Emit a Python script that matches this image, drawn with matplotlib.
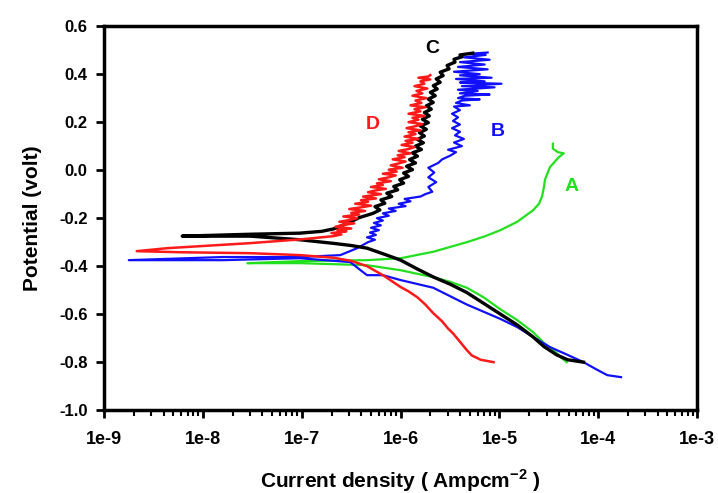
import numpy as np
import matplotlib
matplotlib.use("Agg")
import matplotlib.pyplot as plt
from matplotlib.ticker import FixedLocator, LogLocator, NullFormatter

plt.rcParams['font.family'] = ['Liberation Sans', 'DejaVu Sans']
plt.rcParams['font.weight'] = 'bold'
plt.rcParams['mathtext.fontset'] = 'custom'
plt.rcParams['mathtext.bf'] = 'Liberation Sans:bold'
plt.rcParams['mathtext.rm'] = 'Liberation Sans:bold'

# log10(current density), potential (V); cathodic tail -> Ecorr tip -> anodic end
a_log = [-4.32, -4.38, -4.42, -4.55, -4.66, -4.82, -4.99, -5.16, -5.33, -5.50,
         -5.67, -6.00, -6.34, -7.02, -7.55,
         -7.02, -6.34, -6.00, -5.67, -5.33, -5.15, -4.99, -4.82, -4.66, -4.60,
         -4.57, -4.55, -4.54, -4.49, -4.40, -4.35, -4.41, -4.46, -4.46]
a_pot = [-0.80, -0.78, -0.762, -0.72, -0.675, -0.625, -0.58, -0.53, -0.49, -0.465,
         -0.446, -0.417, -0.396, -0.3875, -0.3875,
         -0.379, -0.375, -0.367, -0.34, -0.30, -0.276, -0.25, -0.215, -0.167, -0.14,
         -0.11, -0.07, -0.04, 0.0125, 0.054, 0.07, 0.075, 0.09, 0.11]

b_log = [-3.77, -3.91, -4.02, -4.15, -4.32, -4.49, -4.66, -4.82, -4.99, -5.16,
         -5.33, -5.50, -5.67, -6.00, -6.18,
         -6.34, -6.38, -6.51, -7.02, -7.80, -8.75,
         -7.80, -7.02, -6.61, -6.44,
         -6.33, -6.26, -6.34, -6.25, -6.31, -6.22, -6.30, -6.20, -6.27, -6.18,
         -6.24, -6.12, -6.18, -6.05, -6.12, -5.95, -6.02, -5.90, -5.96, -5.80,
         -5.75, -5.68, -5.72, -5.64, -5.72, -5.66, -5.72, -5.62, -5.58, -5.50,
         -5.44, -5.52, -5.38, -5.46, -5.36, -5.45, -5.40, -5.48, -5.40, -5.47,
         -5.42, -5.48, -5.40, -5.46, -5.30, -5.44, -5.38, -5.20, -5.42, -5.35,
         -5.10, -5.40, -5.22, -5.42, -5.05, -5.38, -4.98, -5.40, -5.15, -5.44,
         -5.08, -5.40, -5.20, -5.46, -5.12, -5.42, -5.15, -5.40, -5.10, -5.36,
         -5.14, -5.30, -5.12]
b_pot = [-0.8625, -0.854, -0.83, -0.80, -0.768, -0.737, -0.695, -0.654, -0.62, -0.59,
         -0.56, -0.525, -0.49, -0.458, -0.4375,
         -0.4375, -0.425, -0.383, -0.367, -0.375, -0.375,
         -0.362, -0.362, -0.354, -0.325,
         -0.30, -0.29, -0.28, -0.27, -0.26, -0.25, -0.24, -0.23, -0.22, -0.21,
         -0.20, -0.19, -0.18, -0.17, -0.16, -0.15, -0.14, -0.13, -0.12, -0.11,
         -0.10, -0.09, -0.07, -0.05, -0.03, -0.01, 0.01, 0.03, 0.045, 0.06,
         0.075, 0.085, 0.10, 0.115, 0.13, 0.145, 0.16, 0.175, 0.19, 0.205,
         0.22, 0.235, 0.25, 0.265, 0.27, 0.28, 0.29, 0.295, 0.30, 0.31,
         0.315, 0.32, 0.33, 0.335, 0.345, 0.35, 0.36, 0.365, 0.37, 0.38,
         0.385, 0.395, 0.40, 0.41, 0.42, 0.43, 0.44, 0.45, 0.46, 0.47,
         0.48, 0.485, 0.49]

c_log = [-4.15, -4.31, -4.42, -4.55, -4.66, -4.82, -4.99, -5.16, -5.33, -5.50,
         -5.67, -5.84, -6.00, -6.14, -6.34, -6.50,
         -6.68, -7.02, -7.52, -8.21,
         -7.52, -7.02, -6.80, -6.68, -6.60, -6.51, -6.42,
         -6.28, -6.21, -6.26, -6.16, -6.20, -6.09, -6.14, -6.03, -6.07, -5.97,
         -6.01, -5.92, -5.97, -5.88, -5.94, -5.85, -5.91, -5.83, -5.88, -5.79,
         -5.85, -5.77, -5.83, -5.76, -5.81, -5.74, -5.80, -5.72, -5.78, -5.71,
         -5.76, -5.69, -5.74, -5.67, -5.72, -5.65, -5.70, -5.63, -5.67, -5.60,
         -5.64, -5.57, -5.60, -5.51, -5.53, -5.45, -5.46, -5.38, -5.40, -5.27]
c_pot = [-0.80, -0.79, -0.77, -0.735, -0.695, -0.645, -0.60, -0.555, -0.51, -0.475,
         -0.445, -0.41, -0.375, -0.354, -0.325, -0.314,
         -0.305, -0.29, -0.275, -0.275,
         -0.267, -0.2625, -0.255, -0.245, -0.232, -0.216, -0.198,
         -0.180, -0.166, -0.152, -0.138, -0.124, -0.110, -0.096, -0.082, -0.068, -0.054,
         -0.040, -0.026, -0.012, 0.002, 0.016, 0.030, 0.044, 0.058, 0.072, 0.086,
         0.100, 0.114, 0.128, 0.142, 0.156, 0.170, 0.184, 0.198, 0.212, 0.226,
         0.240, 0.254, 0.268, 0.282, 0.296, 0.310, 0.324, 0.338, 0.352, 0.366,
         0.380, 0.394, 0.408, 0.422, 0.436, 0.450, 0.462, 0.472, 0.480, 0.4875]

d_log = [-5.06, -5.19, -5.28, -5.33, -5.38, -5.43, -5.47, -5.52, -5.58, -5.67,
         -5.75, -5.83, -5.92, -6.00, -6.17, -6.34, -6.50, -6.68,
         -7.02, -7.52, -8.23, -8.67,
         -8.36, -7.52, -7.00,
         -6.68, -6.60, -6.70, -6.55, -6.64, -6.50, -6.66, -6.58, -6.47, -6.62,
         -6.52, -6.44, -6.58, -6.42, -6.50, -6.36, -6.52, -6.40, -6.30, -6.46,
         -6.33, -6.40, -6.25, -6.38, -6.20, -6.33, -6.26, -6.15, -6.30, -6.18,
         -6.24, -6.10, -6.22, -6.12, -6.05, -6.18, -6.04, -6.12, -5.98, -6.10,
         -6.02, -5.95, -6.08, -5.96, -6.03, -5.90, -6.02, -5.92, -5.86, -5.99,
         -5.88, -5.95, -5.82, -5.96, -5.85, -5.92, -5.80, -5.94, -5.84, -5.78,
         -5.92, -5.82, -5.88, -5.76, -5.92, -5.80, -5.86, -5.75, -5.90, -5.79,
         -5.85, -5.74, -5.88, -5.78, -5.84, -5.73, -5.86, -5.76, -5.80, -5.70,
         -5.82, -5.72, -5.70]
d_pot = [-0.80, -0.79, -0.772, -0.75, -0.725, -0.70, -0.68, -0.66, -0.63, -0.596,
         -0.56, -0.53, -0.505, -0.487, -0.44, -0.40, -0.378, -0.365,
         -0.354, -0.346, -0.342, -0.3375,
         -0.325, -0.304, -0.288,
         -0.275, -0.268, -0.262, -0.255, -0.25, -0.243, -0.236, -0.228, -0.222, -0.215,
         -0.208, -0.2, -0.193, -0.185, -0.178, -0.17, -0.162, -0.155, -0.148, -0.14,
         -0.132, -0.125, -0.118, -0.11, -0.1, -0.092, -0.085, -0.078, -0.07, -0.062,
         -0.055, -0.046, -0.038, -0.03, -0.022, -0.015, -0.006, 0.002, 0.01, 0.02,
         0.028, 0.036, 0.045, 0.054, 0.062, 0.07, 0.08, 0.088, 0.096, 0.105,
         0.114, 0.122, 0.13, 0.14, 0.15, 0.158, 0.166, 0.175, 0.184, 0.192,
         0.2, 0.21, 0.218, 0.226, 0.235, 0.245, 0.254, 0.262, 0.27, 0.28,
         0.29, 0.3, 0.31, 0.32, 0.33, 0.34, 0.35, 0.36, 0.37, 0.378,
         0.385, 0.39, 0.396]

labels = ['A', 'B', 'C', 'D']
colors = ['#22e01e', '#1010ff', '#000000', '#ff1a1a']
label_log = [-4.27, -5.02, -5.68, -6.28]
label_pot = [-0.067, 0.16, 0.508, 0.19]

fig = plt.figure(figsize=(7.18, 4.93), dpi=100)
ax = fig.add_axes([0.145, 0.168, 0.826, 0.779])

series = [(a_log, a_pot), (b_log, b_pot), (c_log, c_pot), (d_log, d_pot)]
widths = [1.6, 1.6, 2.4, 1.8]
for (lg, pt), col, lw in zip(series, colors, widths):
    ax.plot(10 ** np.array(lg), pt, color=col, lw=lw)

for lab, col, lx, ly in zip(labels, colors, label_log, label_pot):
    ax.text(10 ** lx, ly, lab, color=col, fontsize=14, fontweight='bold',
            ha='center', va='center')

ax.set_xscale('log')
ax.set_xlim(1e-9, 1e-3)
ax.set_ylim(-1.0, 0.6)

xt = [1e-9, 1e-8, 1e-7, 1e-6, 1e-5, 1e-4, 1e-3]
ax.xaxis.set_major_locator(FixedLocator(xt))
ax.set_xticklabels(['1e-9', '1e-8', '1e-7', '1e-6', '1e-5', '1e-4', '1e-3'])
ax.xaxis.set_minor_locator(LogLocator(base=10, subs=np.arange(2, 10)))
ax.xaxis.set_minor_formatter(NullFormatter())
yt = [-1.0, -0.8, -0.6, -0.4, -0.2, 0.0, 0.2, 0.4, 0.6]
ax.set_yticks(yt)
ax.set_yticklabels(['-1.0', '-0.8', '-0.6', '-0.4', '-0.2', '0.0', '0.2', '0.4', '0.6'])

for s in ax.spines.values():
    s.set_linewidth(2.5)
ax.tick_params(which='major', length=6, width=2, pad=6)
ax.tick_params(which='minor', length=4, width=1.5)
ax.tick_params(axis='x', which='major', pad=9, labelsize=13)
ax.tick_params(axis='y', which='major', labelsize=12)

ax.set_xlabel('Current density ( Ampcm$^{\\mathbf{-2}}$ )', fontsize=15,
              fontweight='bold', labelpad=14)
ax.set_ylabel('Potential (volt)', fontsize=15, fontweight='bold', labelpad=12)

fig.savefig('out.png', dpi=100)
